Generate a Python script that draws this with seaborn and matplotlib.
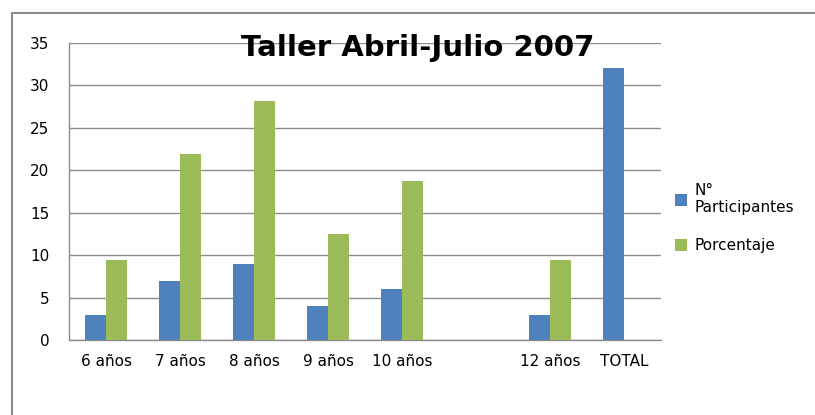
import numpy as np
import pandas as pd
import matplotlib
matplotlib.use('Agg')
import matplotlib.pyplot as plt
import seaborn as sns
from matplotlib.patches import Rectangle

categorias = ['6 años', '7 años', '8 años', '9 años', '10 años', ' ', '12 años', 'TOTAL']
participantes = [3, 7, 9, 4, 6, np.nan, 3, 32]
porcentaje = [9.375, 21.875, 28.125, 12.5, 18.75, np.nan, 9.375, np.nan]
series = ['N°\nParticipantes', 'Porcentaje']
colores = ['#4F81BD', '#9BBB59']

df = pd.DataFrame({
    'categoria': categorias * 2,
    'serie': [series[0]] * len(categorias) + [series[1]] * len(categorias),
    'valor': participantes + porcentaje,
})

sns.set_style('white')
plt.rcParams['font.family'] = ['DejaVu Sans']
plt.rcParams['text.color'] = 'black'
plt.rcParams['xtick.color'] = 'black'
plt.rcParams['ytick.color'] = 'black'

fig = plt.figure(figsize=(8.15, 4.15), dpi=100)
ax = fig.add_axes([0.0847, 0.1807, 0.7264, 0.7157])

sns.barplot(data=df, x='categoria', y='valor', hue='serie', order=categorias,
            hue_order=series, palette=colores, width=0.57, errorbar=None,
            saturation=1, linewidth=0, ax=ax, zorder=3)

ax.set_ylim(0, 35)
ax.set_yticks(range(0, 36, 5))
ax.set_xlim(-0.5, len(categorias) - 0.5)
ax.set_xlabel('')
ax.set_ylabel('')
ax.grid(axis='y', color='#8c8c8c', linewidth=1, zorder=0)
ax.set_axisbelow(True)
for s in ['top', 'right']:
    ax.spines[s].set_visible(False)
for s in ['left', 'bottom']:
    ax.spines[s].set_color('#8c8c8c')
    ax.spines[s].set_linewidth(1)

# category labels at centers, tick marks at boundaries
ax.set_xticks(range(len(categorias)))
ax.set_xticklabels(categorias, fontsize=11)
ax.tick_params(axis='x', length=0, pad=10)
ax.set_xticks(np.arange(-0.5, len(categorias), 1), minor=True)
ax.tick_params(axis='x', which='minor', length=5, color='#8c8c8c', direction='out')
ax.tick_params(axis='y', length=6, color='#8c8c8c', labelcolor='black',
               direction='out', labelsize=11, pad=8)

leg = ax.legend(loc='center left', bbox_to_anchor=(1.0, 0.41), frameon=False,
                fontsize=11, handlelength=0.8, handleheight=0.8, handletextpad=0.5,
                labelspacing=1.5)

fig.text(0.513, 0.885, 'Taller Abril-Julio 2007', fontsize=21, fontweight='bold',
         ha='center', va='center')

fig.patches.append(Rectangle((12 / 815, -0.1), 1.2, 1 - 13 / 415 + 0.1,
                             transform=fig.transFigure, fill=False,
                             edgecolor='#8c8c8c', linewidth=1.5))

fig.savefig('out.png', dpi=100)
